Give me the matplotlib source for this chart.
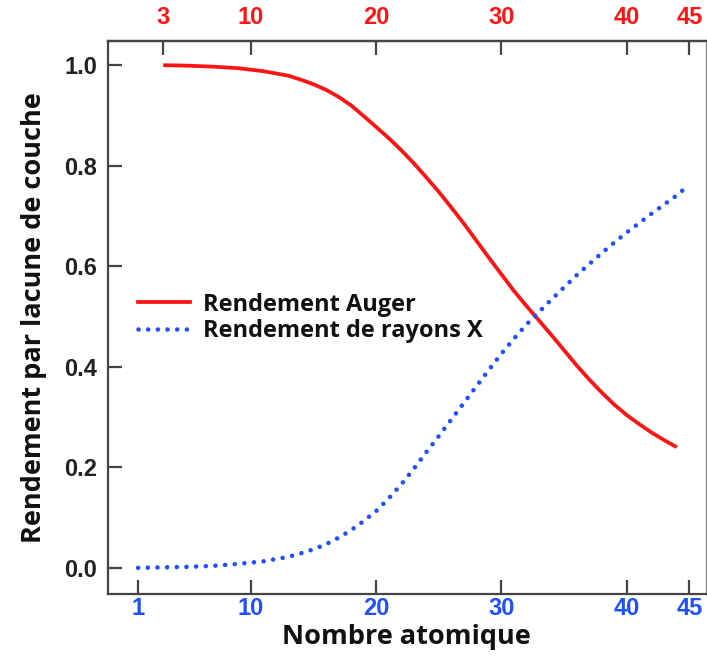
import matplotlib.pyplot as plt
from matplotlib.lines import Line2D

# Rendement Auger / rendement de fluorescence X en fonction de Z
z_auger = [3, 5, 7, 9, 11, 13, 14, 15, 16, 17, 18, 19, 20, 21, 22, 23, 24, 25, 26,
           27, 28, 29, 30, 31, 32, 33, 34, 35, 36, 37, 38, 39, 40, 41, 42, 43, 44]
auger = [1.000, 0.999, 0.997, 0.994, 0.988, 0.979, 0.971, 0.962, 0.951, 0.937,
         0.920, 0.899, 0.877, 0.855, 0.831, 0.805, 0.777, 0.748, 0.717, 0.685,
         0.651, 0.617, 0.584, 0.551, 0.521, 0.492, 0.463, 0.433, 0.403, 0.375,
         0.349, 0.325, 0.304, 0.286, 0.269, 0.254, 0.240]

z_xray = [1, 3, 5, 7, 9, 11, 13, 14, 15, 16, 17, 18, 19, 20, 21, 22, 23, 24, 25,
          26, 27, 28, 29, 30, 31, 32, 33, 34, 35, 36, 37, 38, 39, 40, 41, 42, 43,
          44, 44.7]
xray = [0.000, 0.001, 0.002, 0.004, 0.008, 0.013, 0.022, 0.029, 0.037, 0.047,
        0.060, 0.075, 0.093, 0.113, 0.138, 0.166, 0.197, 0.230, 0.262, 0.295,
        0.328, 0.361, 0.394, 0.426, 0.456, 0.484, 0.509, 0.534, 0.558, 0.582,
        0.604, 0.626, 0.647, 0.667, 0.686, 0.705, 0.723, 0.741, 0.756]

bottom_ticks = [1, 10, 20, 30, 40, 45]
top_ticks = [3, 10, 20, 30, 40, 45]
y_ticks = [0.0, 0.2, 0.4, 0.6, 0.8, 1.0]

RED = '#ff1414'
BLUE = '#1f4fff'
AXIS = '#444444'
DOTS = (0, (0.01, 2.1))

fig = plt.figure(figsize=(7.07, 6.62), dpi=100)
ax = fig.add_axes([0.1528, 0.1027, 0.8452, 0.8353])

ax.plot(z_auger, auger, color=RED, lw=2.7, solid_capstyle='butt',
        solid_joinstyle='round')
ax.plot(z_xray, xray, color=BLUE, lw=3.3, linestyle=DOTS, dash_capstyle='round')

ax.set_xlim(-1.4, 46.3)
ax.set_ylim(-0.052, 1.048)

tick_font = dict(family='Liberation Sans', weight='bold', size=17)
label_font = dict(family='Open Sans', weight='bold', size=19.5)

ax.set_xticks(bottom_ticks)
ax.set_xticklabels([str(t) for t in bottom_ticks], color=BLUE, **tick_font)
ax.set_yticks(y_ticks)
ax.set_yticklabels([f'{t:.1f}' for t in y_ticks], color='#222222', **tick_font)
ax.tick_params(axis='both', direction='in', length=10, width=1.6, color=AXIS)
ax.tick_params(axis='x', pad=2)
ax.tick_params(axis='y', pad=8)

top = ax.secondary_xaxis('top')
top.set_xticks(top_ticks)
top.set_xticklabels([str(t) for t in top_ticks], color=RED, **tick_font)
top.tick_params(direction='in', length=10, width=1.6, color=AXIS, pad=9)
top.spines['top'].set_color(AXIS)
top.spines['top'].set_linewidth(1.6)

for side in ['left', 'bottom', 'top']:
    ax.spines[side].set_color(AXIS)
    ax.spines[side].set_linewidth(1.6)
ax.spines['right'].set_color('#888888')
ax.spines['right'].set_linewidth(1.0)

ax.set_xlabel('Nombre atomique', color='#111111', labelpad=3, **label_font)
ax.set_ylabel('Rendement par lacune de couche', color='#111111', labelpad=12, **label_font)

handles = [
    Line2D([], [], color=RED, lw=2.7),
    Line2D([], [], color=BLUE, lw=3.3, linestyle=DOTS, dash_capstyle='round'),
]
leg = ax.legend(handles, ['Rendement Auger', 'Rendement de rayons X'],
                loc='upper left', bbox_to_anchor=(0.05, 0.545), frameon=False,
                borderpad=0, borderaxespad=0,
                handlelength=2.2, handletextpad=0.55, labelspacing=0.1,
                prop=dict(family='Open Sans', weight='bold', size=17))
for t in leg.get_texts():
    t.set_color('#111111')

fig.savefig('out.png', dpi=100)
